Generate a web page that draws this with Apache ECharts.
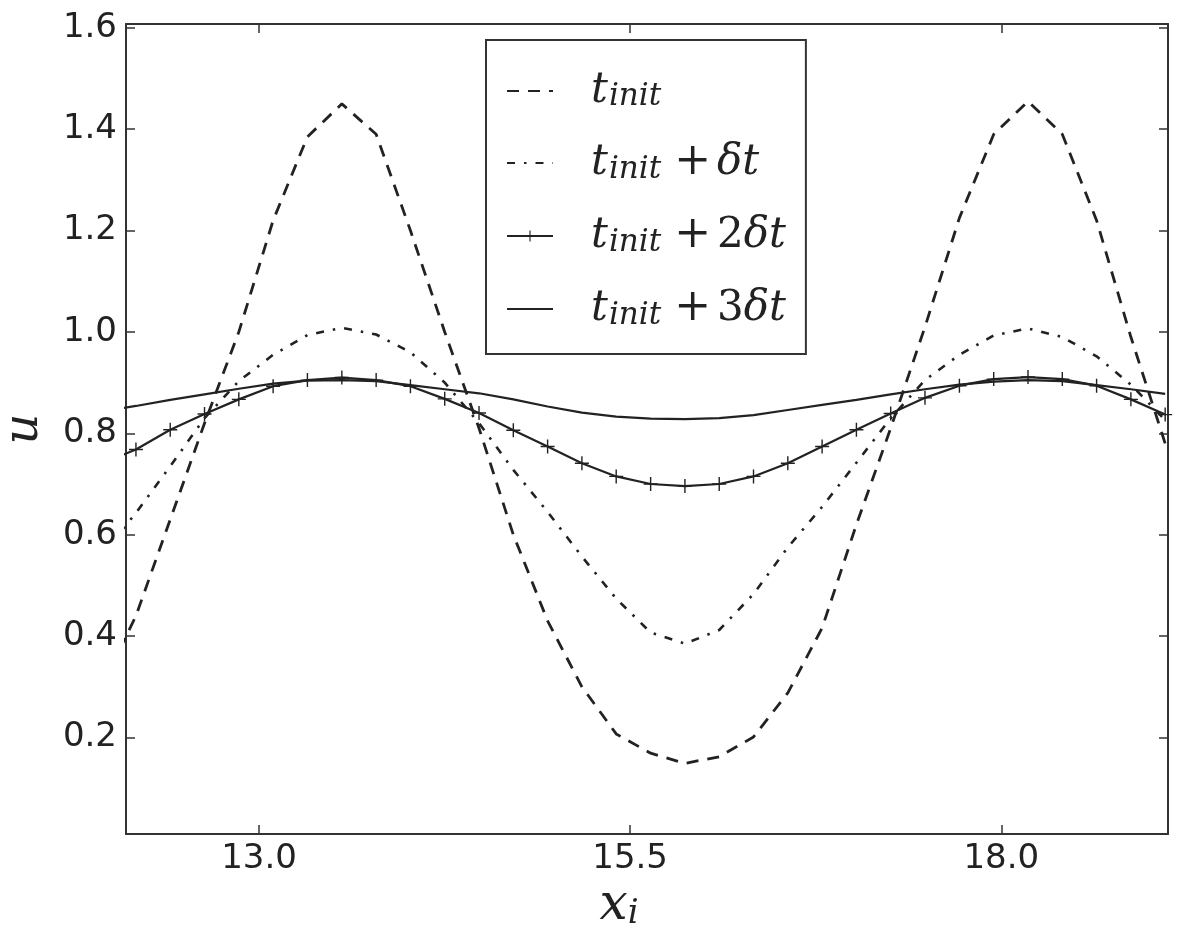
<!DOCTYPE html>
<html>
<head>
<meta charset="utf-8">
<script src="https://cdn.jsdelivr.net/npm/echarts@6/dist/echarts.min.js"></script>
<style>
  html, body { margin: 0; padding: 0; background: #fff; }
  #chart { width: 1200px; height: 934px; }
</style>
</head>
<body>
<div id="chart"></div>
<script>
// grid points x_i (first one lies left of the visible range and gets clipped)
var xs = [11.940, 12.171, 12.402, 12.633, 12.864, 13.095, 13.326, 13.558, 13.789, 14.020,
          14.251, 14.482, 14.713, 14.944, 15.175, 15.406, 15.638, 15.869, 16.100, 16.331,
          16.562, 16.793, 17.024, 17.255, 17.486, 17.718, 17.949, 18.180, 18.411, 18.642,
          18.873, 19.104];

// u at t_init
var uInit = [0.30, 0.44, 0.63, 0.82, 1.00, 1.22, 1.385, 1.45, 1.39, 1.20,
             1.00, 0.81, 0.60, 0.43, 0.30, 0.207, 0.169, 0.149, 0.162, 0.201,
             0.288, 0.416, 0.62, 0.81, 1.01, 1.225, 1.39, 1.455, 1.39, 1.22,
             0.99, 0.78];
// u at t_init + dt
var uDt = [0.56, 0.643, 0.735, 0.83, 0.903, 0.955, 0.994, 1.008, 0.995, 0.96,
           0.90, 0.82, 0.728, 0.645, 0.557, 0.474, 0.407, 0.385, 0.412, 0.483,
           0.575, 0.655, 0.742, 0.83, 0.905, 0.955, 0.993, 1.007, 0.99, 0.952,
           0.896, 0.826];
// u at t_init + 2dt
var u2Dt = [0.741, 0.768, 0.807, 0.838, 0.867, 0.893, 0.905, 0.910, 0.905, 0.893,
            0.868, 0.840, 0.806, 0.774, 0.741, 0.715, 0.700, 0.696, 0.700, 0.715,
            0.741, 0.774, 0.807, 0.839, 0.870, 0.894, 0.907, 0.911, 0.907, 0.894,
            0.867, 0.837];
// u at t_init + 3dt
var u3Dt = [0.843, 0.854, 0.866, 0.877, 0.888, 0.898, 0.904, 0.905, 0.903, 0.895,
            0.887, 0.879, 0.867, 0.853, 0.841, 0.833, 0.829, 0.828, 0.830, 0.836,
            0.846, 0.856, 0.866, 0.877, 0.887, 0.896, 0.902, 0.905, 0.903, 0.895,
            0.887, 0.878];

var xTicks = [13.0, 15.5, 18.0];
var yTicks = [0.2, 0.4, 0.6, 0.8, 1.0, 1.2, 1.4, 1.6];
var names = ['t_init', 't_init+δt', 't_init+2δt', 't_init+3δt'];

var ink = '#222';

function pairs(ys) {
    var out = [];
    for (var i = 0; i < xs.length; i++) out.push([xs[i], ys[i]]);
    return out;
}

// legend labels as rich text (t with subscript "init")
var legendText = {
    't_init': '{t|t}{s|init}',
    't_init+δt': '{t|t}{s|init}{o|+}{t|δt}',
    't_init+2δt': '{t|t}{s|init}{o|+}{n|2}{t|δt}',
    't_init+3δt': '{t|t}{s|init}{o|+}{n|3}{t|δt}'
};

var serif = '"DejaVu Serif", "Liberation Serif", serif';

var chart = echarts.init(document.getElementById('chart'));

var axisFrame = { show: true, lineStyle: { color: '#333', width: 2 } };
var tickIn = { show: true, inside: true, length: 9, lineStyle: { color: '#333', width: 1.5 } };

// only the "+" series shows its marker in the legend
var legendData = names.map(function (n, i) {
    return i === 2 ? { name: n } : { name: n, itemStyle: { opacity: 0 } };
});

option = {
    animation: false,
    backgroundColor: '#fff',
    grid: { left: 126, right: 32, top: 24, bottom: 100, outerBoundsMode: 'none', containLabel: false },
    legend: {
        orient: 'vertical',
        left: 486,
        top: 40,
        padding: [30, 20, 23, 20],
        itemGap: 29,
        itemWidth: 46,
        itemHeight: 14,
        borderColor: '#333',
        borderWidth: 2,
        borderRadius: 0,
        backgroundColor: '#fff',
        data: legendData,
        formatter: function (name) { return legendText[name]; },
        textStyle: {
            padding: [0, 0, 0, 33],
            rich: {
                t: { fontFamily: serif, fontStyle: 'italic', fontSize: 42, color: ink },
                s: { fontFamily: serif, fontStyle: 'italic', fontSize: 31, color: ink,
                     verticalAlign: 'bottom', padding: [0, 7, 0, 1] },
                o: { fontFamily: serif, fontSize: 44, color: ink, padding: [0, 6, 0, 6] },
                n: { fontFamily: serif, fontSize: 42, color: ink }
            }
        }
    },
    xAxis: [{
        type: 'value',
        min: 12.104,
        max: 19.123,
        name: '{x|x}{i|i}',
        nameLocation: 'middle',
        nameGap: 46,
        nameTextStyle: {
            rich: {
                x: { fontFamily: serif, fontStyle: 'italic', fontSize: 50, color: ink },
                i: { fontFamily: serif, fontStyle: 'italic', fontSize: 34, color: ink,
                     verticalAlign: 'bottom', padding: [0, 56, 0, 0] }
            }
        },
        splitLine: { show: false },
        axisLine: axisFrame,
        axisTick: Object.assign({ customValues: xTicks }, tickIn),
        axisLabel: {
            customValues: xTicks,
            margin: 8,
            fontFamily: '"DejaVu Sans", sans-serif',
            fontSize: 34,
            color: ink,
            formatter: function (v) { return v.toFixed(1); }
        }
    }, {
        type: 'value',
        position: 'top',
        min: 12.104,
        max: 19.123,
        splitLine: { show: false },
        axisLine: axisFrame,
        axisTick: Object.assign({ customValues: xTicks }, tickIn),
        axisLabel: { show: false }
    }],
    yAxis: [{
        type: 'value',
        min: 0.0096,
        max: 1.6075,
        name: 'u',
        nameLocation: 'middle',
        nameRotate: 90,
        nameGap: 77,
        nameTextStyle: { fontFamily: serif, fontStyle: 'italic', fontSize: 48, color: ink },
        splitLine: { show: false },
        axisLine: axisFrame,
        axisTick: Object.assign({ customValues: yTicks }, tickIn),
        axisLabel: {
            customValues: yTicks,
            margin: 9,
            fontFamily: '"DejaVu Sans", sans-serif',
            fontSize: 34,
            color: ink,
            formatter: function (v) { return v.toFixed(1); }
        }
    }, {
        type: 'value',
        position: 'right',
        min: 0.0096,
        max: 1.6075,
        splitLine: { show: false },
        axisLine: axisFrame,
        axisTick: Object.assign({ customValues: yTicks }, tickIn),
        axisLabel: { show: false }
    }],
    series: [{
        name: names[0],
        type: 'line',
        data: pairs(uInit),
        symbol: 'none',
        lineStyle: { color: ink, width: 2.8, type: [12, 9] },
        itemStyle: { color: ink },
        emphasis: { disabled: true }
    }, {
        name: names[1],
        type: 'line',
        data: pairs(uDt),
        symbol: 'none',
        lineStyle: { color: ink, width: 2.6, type: [8, 9, 2.5, 9] },
        itemStyle: { color: ink },
        emphasis: { disabled: true }
    }, {
        name: names[2],
        type: 'line',
        data: pairs(u2Dt),
        symbol: 'path://M9,0H11V9H20V11H11V20H9V11H0V9H9Z',
        symbolSize: 14,
        showSymbol: true,
        lineStyle: { color: ink, width: 2.2 },
        itemStyle: { color: ink },
        emphasis: { disabled: true }
    }, {
        name: names[3],
        type: 'line',
        data: pairs(u3Dt),
        symbol: 'none',
        lineStyle: { color: ink, width: 2.2 },
        itemStyle: { color: ink },
        emphasis: { disabled: true }
    }]
};

chart.setOption(option);
</script>
</body>
</html>
